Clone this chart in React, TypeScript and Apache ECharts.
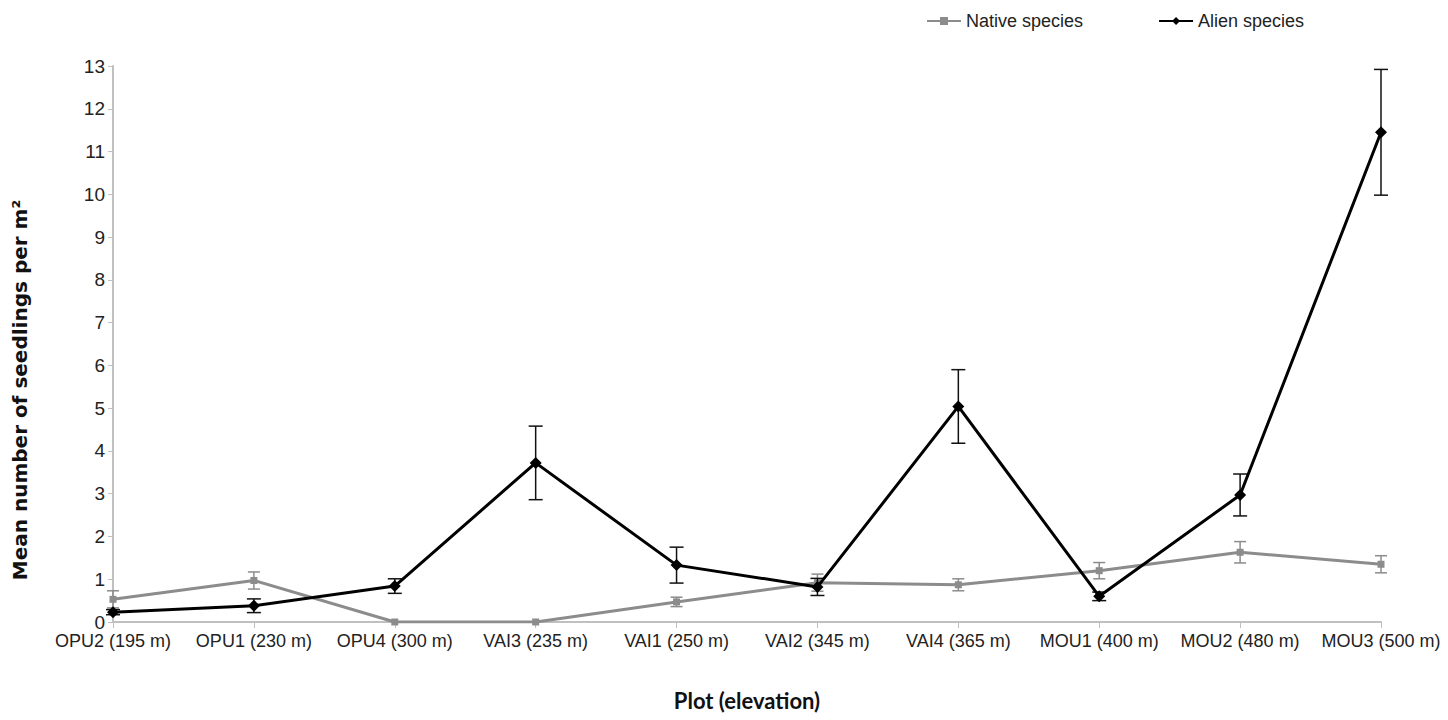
import React, { useEffect, useRef } from "react";
import * as echarts from "echarts";

const categories = [
  "OPU2 (195 m)",
  "OPU1 (230 m)",
  "OPU4 (300 m)",
  "VAI3 (235 m)",
  "VAI1 (250 m)",
  "VAI2 (345 m)",
  "VAI4 (365 m)",
  "MOU1 (400 m)",
  "MOU2 (480 m)",
  "MOU3 (500 m)",
];

const nativeMean = [0.53, 0.97, 0.0, 0.0, 0.47, 0.92, 0.87, 1.2, 1.63, 1.35];
const nativeErr = [0.2, 0.2, 0.0, 0.0, 0.11, 0.2, 0.14, 0.19, 0.25, 0.2];

const alienMean = [0.23, 0.38, 0.84, 3.72, 1.33, 0.82, 5.04, 0.6, 2.97, 11.45];
const alienErr = [0.06, 0.16, 0.17, 0.86, 0.42, 0.2, 0.86, 0.1, 0.49, 1.47];

const yTicks = { min: 0, max: 13, interval: 1 };

const yTitle = "Mean number of seedlings per m²";
const xTitle = "Plot (elevation)";

const labelFont = "'Liberation Sans', Arial, sans-serif";

function errorSeries(name: string, means: number[], errs: number[], color: string, cap: number, z: number) {
  const data = means.map((m, i) => [i, Math.max(0, m - errs[i]), m + errs[i]]);
  return {
    type: "custom",
    name,
    z,
    silent: true,
    data,
    encode: { x: 0, y: [1, 2] },
    renderItem: (params: any, api: any) => {
      const x = api.value(0);
      const lo = api.coord([x, api.value(1)]);
      const hi = api.coord([x, api.value(2)]);
      if (Math.abs(hi[1] - lo[1]) < 0.5) return { type: "group", children: [] };
      const style = { stroke: color, lineWidth: 1.5 };
      return {
        type: "group",
        children: [
          { type: "line", shape: { x1: hi[0], y1: hi[1], x2: lo[0], y2: lo[1] }, style },
          { type: "line", shape: { x1: hi[0] - cap, y1: hi[1], x2: hi[0] + cap, y2: hi[1] }, style },
          { type: "line", shape: { x1: lo[0] - cap, y1: lo[1], x2: lo[0] + cap, y2: lo[1] }, style },
        ],
      };
    },
  };
}

export default function App() {
  const ref = useRef<HTMLDivElement>(null);
  useEffect(() => {
    if (!ref.current) return;
    const chart = echarts.init(ref.current, undefined, { renderer: "svg" });
    chart.setOption({
      animation: false,
      backgroundColor: "#ffffff",
      grid: { left: 113, right: 67, top: 66, bottom: 98, containLabel: false },
      legend: {
        data: ["Native species", "Alien species"],
        left: 921,
        top: 7,
        itemWidth: 34,
        itemHeight: 10,
        itemGap: 75,
        textStyle: { fontFamily: labelFont, fontSize: 18, color: "#222" },
      },
      graphic: [
        {
          type: "text",
          x: 20,
          y: 390,
          rotation: Math.PI / 2,
          style: {
            text: yTitle,
            fontFamily: "'DejaVu Sans', sans-serif",
            fontWeight: "bold",
            fontSize: 20,
            fill: "#111",
            align: "center",
            verticalAlign: "middle",
          },
        },
      ],
      xAxis: {
        type: "category",
        data: categories,
        boundaryGap: false,
        axisLine: { lineStyle: { color: "#c0c0c0", width: 2 } },
        axisTick: { show: true, alignWithLabel: true, length: 6, lineStyle: { color: "#c0c0c0" } },
        axisLabel: { fontFamily: labelFont, fontSize: 18, color: "#222", margin: 10, interval: 0 },
        name: xTitle,
        nameLocation: "middle",
        nameGap: 67,
        nameTextStyle: { fontFamily: "Lato, sans-serif", fontWeight: "bold", fontSize: 22, color: "#111" },
      },
      yAxis: {
        type: "value",
        min: yTicks.min,
        max: yTicks.max,
        interval: yTicks.interval,
        splitLine: { show: false },
        axisLine: { show: true, lineStyle: { color: "#c0c0c0", width: 2 } },
        axisTick: { show: true, length: 5, lineStyle: { color: "#c0c0c0" } },
        axisLabel: { fontFamily: labelFont, fontSize: 19, color: "#222", margin: 8 },
      },
      series: [
        errorSeries("nativeErr", nativeMean, nativeErr, "#8c8c8c", 6, 3),
        {
          type: "line",
          name: "Native species",
          data: nativeMean,
          symbol: "rect",
          symbolSize: 7,
          z: 4,
          lineStyle: { color: "#8c8c8c", width: 3 },
          itemStyle: { color: "#8c8c8c" },
        },
        errorSeries("alienErr", alienMean, alienErr, "#111111", 7, 5),
        {
          type: "line",
          name: "Alien species",
          data: alienMean,
          symbol: "diamond",
          symbolSize: 12,
          z: 6,
          lineStyle: { color: "#000000", width: 3 },
          itemStyle: { color: "#000000" },
        },
      ],
    });
    return () => chart.dispose();
  }, []);
  return (
    <div
      ref={ref}
      style={{ position: "fixed", left: 0, top: 0, width: 1448, height: 720, background: "#fff" }}
    />
  );
}
